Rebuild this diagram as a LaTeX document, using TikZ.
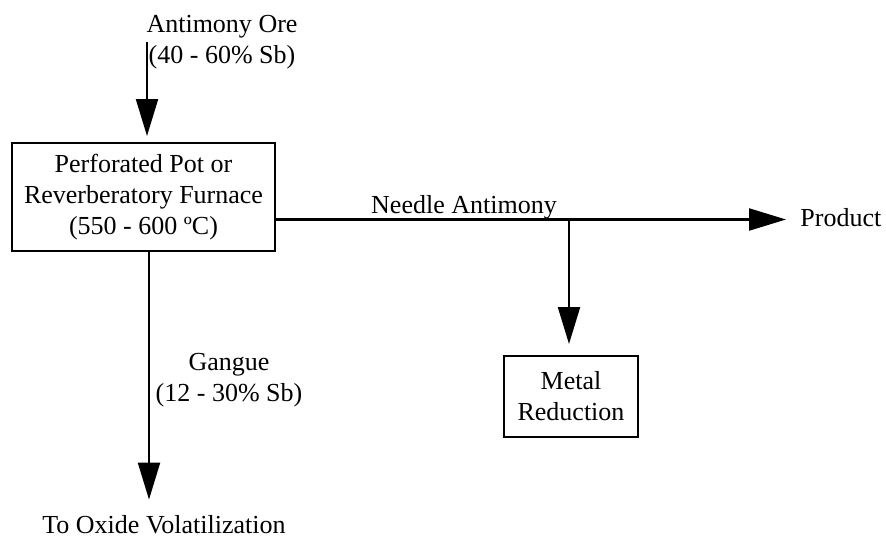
\documentclass[tikz,border=0pt]{standalone}
\usepackage{fontspec}
\setmainfont{Liberation Serif}
\usetikzlibrary{arrows.meta}
\begin{document}
\begin{tikzpicture}[x=0.5pt,y=-0.5pt,
  txt/.style={font=\fontsize{13}{15.5}\selectfont, inner sep=0pt, align=center},
  unit/.style={txt, draw, line width=1pt},
  flow/.style={line width=1.1pt, -{Triangle[length=18.5pt,width=11pt]}}]
\useasboundingbox (0,0) rectangle (886,540);

% process units
\node[unit, minimum width=131.5pt, minimum height=54pt] (furnace) at (143.5,197)
  {Perforated Pot or\\Reverberatory Furnace\\(550 - 600 ºC)};
\node[unit, minimum width=67pt, minimum height=40.5pt] (metal) at (571,396.5)
  {Metal\\Reduction};

% stream labels
\node[txt] (ore) at (222,42) {Antimony Ore\\(40 - 60\% Sb)};
\node[txt, anchor=base] (needle) at (464,213) {Needle Antimony};
\node[txt, anchor=base west] (product) at (800,226) {Product};
\node[txt] (gangue) at (229,380) {Gangue\\(12 - 30\% Sb)};
\node[txt, anchor=base] (oxide) at (164,533) {To Oxide Volatilization};

% stream end points
\coordinate (oreIn) at (147,42);
\coordinate (needleOut) at (275,219.5);
\coordinate (branch) at (569,219.5);
\coordinate (gangueOut) at (149,251);

% streams
\draw[flow, shorten >=3pt] (oreIn) -- (oreIn |- furnace.north);
\draw[flow, shorten >=7pt] (needleOut) -- (needleOut -| product.west);
\draw[flow, shorten >=5.5pt] (branch) -- (branch |- metal.north);
\draw[flow, shorten >=7.5pt] (gangueOut) -- (gangueOut |- oxide.north);
\end{tikzpicture}
\end{document}
